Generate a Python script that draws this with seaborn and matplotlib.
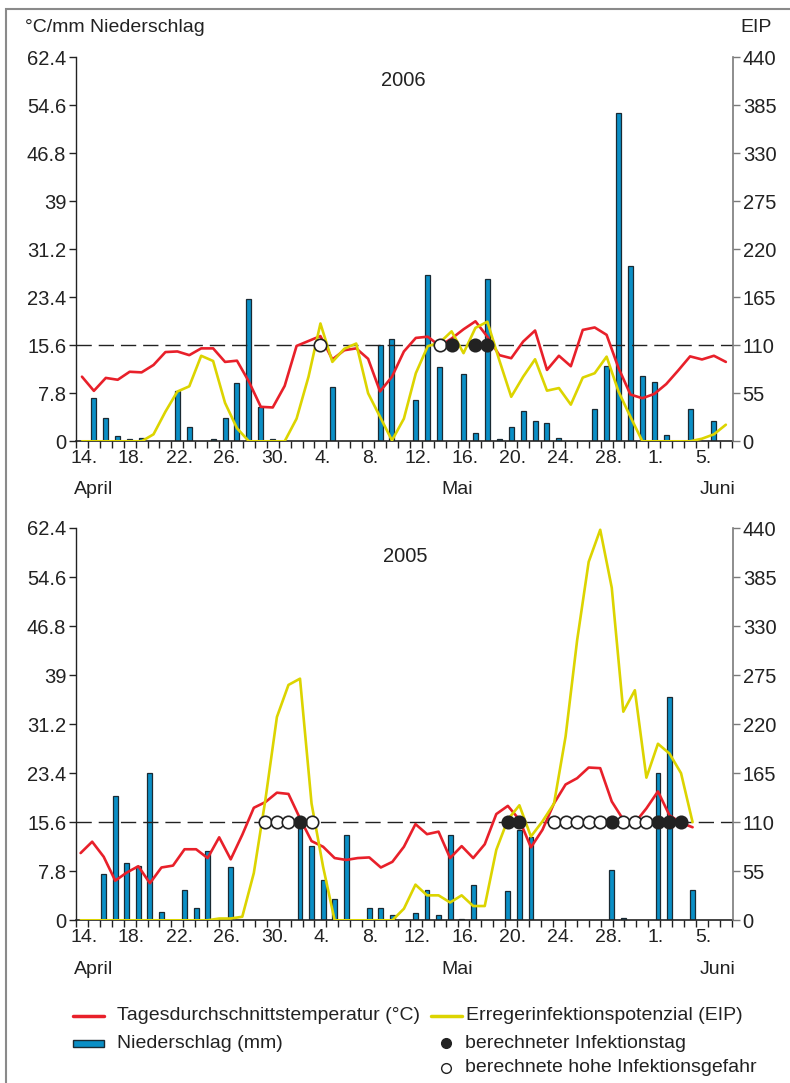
import numpy as np
import pandas as pd
import matplotlib
matplotlib.use("Agg")
import matplotlib.pyplot as plt
import seaborn as sns
from matplotlib.lines import Line2D
from matplotlib.patches import Rectangle

sns.set_theme(style="ticks")
plt.rcParams['font.family'] = ['Liberation Sans', 'DejaVu Sans']

# ---------------- data (day 0 = 14 April) ----------------
temp_2006 = [10.5, 8.2, 10.3, 10.0, 11.3, 11.2, 12.4, 14.5, 14.6, 14.0,
             15.1, 15.1, 12.9, 13.1, 9.7, 5.6, 5.5, 9.0, 15.5, 16.3,
             17.1, 13.3, 14.8, 15.1, 13.4, 8.1, 10.5, 14.6, 16.8, 17.0,
             15.5, 16.7, 18.2, 19.5, 17.0, 14.0, 13.5, 16.2, 18.0, 11.6,
             13.9, 12.2, 18.1, 18.5, 17.3, 11.9, 7.6, 7.0, 7.7, 9.3,
             11.5, 13.8, 13.3, 13.9, 12.9]
eip_2006 = [0, 0, 0, 0, 0, 0, 8, 34, 57, 63,
            98, 92, 44, 15, 0, 0, 0, 0, 26, 74,
            135, 91, 106, 112, 55, 28, 1, 26, 78, 109,
            113, 126, 101, 130, 137, 93, 51, 74, 94, 58,
            61, 42, 73, 78, 97, 57, 28, 0, 0, 0,
            0, 0, 3, 8, 19]
rain_days_2006 = [1, 2, 3, 4, 5, 8, 9, 11, 12, 13, 14, 15, 16, 21, 25, 26, 28, 29, 30,
                  32, 33, 34, 35, 36, 37, 38, 39, 40, 43, 44, 45, 46, 47, 48, 49, 51, 53]
rain_2006 = [7.0, 3.8, 0.8, 0.3, 0.6, 8.1, 2.3, 0.3, 3.8, 9.5, 23.2, 5.6, 0.3, 8.9, 15.7, 16.7, 6.7, 27.1, 12.0,
             10.9, 1.3, 26.4, 0.4, 2.3, 4.9, 3.3, 3.0, 0.6, 5.2, 12.3, 53.3, 28.5, 10.6, 9.7, 1.0, 5.2, 3.3]
infection_2006 = [31, 33, 34]
risk_2006 = [20, 30]

temp_2005 = [10.7, 12.5, 10.1, 6.3, 7.6, 8.6, 5.9, 8.4, 8.7, 11.3,
             11.3, 9.9, 13.2, 9.7, 13.6, 17.9, 18.8, 20.3, 20.1, 16.2,
             12.6, 11.7, 9.9, 9.6, 9.9, 10.0, 8.4, 9.3, 11.7, 15.3,
             13.7, 14.1, 9.9, 11.8, 9.9, 12.1, 16.9, 18.2, 16.0, 11.6,
             14.4, 18.6, 21.6, 22.6, 24.3, 24.2, 18.9, 16.0, 15.5, 17.8,
             20.5, 16.7, 15.5, 14.8]
eip_2005 = [0, 0, 0, 0, 0, 0, 0, 0, 0, 0,
            0, 0, 2, 2, 4, 53, 135, 228, 264, 271,
            131, 60, 0, 0, 0, 0, 0, 0, 13, 40,
            28, 28, 20, 28, 16, 16, 79, 113, 129, 94,
            111, 131, 206, 314, 402, 438, 373, 234, 258, 160,
            198, 187, 165, 110]
rain_days_2005 = [2, 3, 4, 5, 6, 7, 9, 10, 11, 13, 19, 20, 21, 22, 23, 25, 26, 27,
                  29, 30, 31, 32, 33, 34, 37, 38, 39, 46, 47, 50, 51, 53]
rain_2005 = [7.3, 19.8, 9.1, 8.7, 23.4, 1.3, 4.8, 2.0, 11.0, 8.5, 15.8, 11.8, 6.4, 3.4, 13.5, 1.9, 1.9, 0.8,
             1.1, 4.8, 0.8, 13.5, 0.2, 5.6, 4.7, 14.3, 13.2, 8.0, 0.4, 23.5, 35.5, 4.8]
infection_2005 = [19, 37, 38, 46, 50, 51, 52]
risk_2005 = [16, 17, 18, 20, 41, 42, 43, 44, 45, 47, 48, 49]

left_ticks = [0, 7.8, 15.6, 23.4, 31.2, 39, 46.8, 54.6, 62.4]
left_labels = ["0", "7.8", "15.6", "23.4", "31.2", "39", "46.8", "54.6", "62.4"]
right_ticks = [0, 55, 110, 165, 220, 275, 330, 385, 440]
right_labels = ["0", "55", "110", "165", "220", "275", "330", "385", "440"]
x_label_days = [0, 4, 8, 12, 16, 20, 24, 28, 32, 36, 40, 44, 48, 52]
x_labels = ["14.", "18.", "22.", "26.", "30.", "4.", "8.", "12.", "16.", "20.", "24.", "28.", "1.", "5."]
threshold_temp = 15.6
threshold_eip = 110

# ---------------- styling ----------------
RED = "#e8202a"
YELLOW = "#dcd400"
BLUE = "#0a8fc6"
DARK = "#222222"
GREY = "#7a7a7a"

W, H = 790, 1083
fig = plt.figure(figsize=(W / 100, H / 100), dpi=100)


def fx(px):
    return px / W


def fy(py):
    return 1 - py / H


TOP_LIM = (-0.5, 54.6)
BOT_LIM = (-0.4, 56.5)


def map_days(d, dst):
    d = np.asarray(d, dtype=float)
    return dst[0] + (d - TOP_LIM[0]) * (dst[1] - dst[0]) / (TOP_LIM[1] - TOP_LIM[0])


def panel(rect, xlim, temp, eip, rain_days, rain, inf, risk, year, year_xy):
    ax = fig.add_axes(rect)
    days = np.arange(len(temp))
    df_rain = pd.DataFrame({"day": rain_days, "rain": rain})
    sns.barplot(data=df_rain, x="day", y="rain", native_scale=True, width=0.42,
                color=BLUE, saturation=1, edgecolor="#1a2a33", linewidth=0.9,
                errorbar=None, ax=ax, zorder=1)
    ax.axhline(threshold_temp, color=DARK, lw=1.0, linestyle=(0, (11, 5)), zorder=1.5)
    sns.lineplot(x=days, y=temp, color=RED, lw=1.9, ax=ax, estimator=None, sort=False, zorder=3)
    ax.set_xlim(*xlim)
    ax.set_ylim(0, 62.4)
    ax.set_xlabel("")
    ax.set_ylabel("")

    ax2 = ax.twinx()
    sns.lineplot(x=days, y=eip, color=YELLOW, lw=1.9, ax=ax2, estimator=None, sort=False, zorder=3)
    sns.scatterplot(x=risk, y=[threshold_eip] * len(risk), ax=ax2, s=80, marker="o",
                    facecolor="white", edgecolor=DARK, linewidth=1.2, zorder=5)
    sns.scatterplot(x=inf, y=[threshold_eip] * len(inf), ax=ax2, s=80, marker="o",
                    facecolor=DARK, edgecolor=DARK, linewidth=1.2, zorder=6)
    ax2.set_ylim(0, 440)
    ax2.set_xlim(*xlim)
    ax2.set_ylabel("")

    # spines
    for a in (ax, ax2):
        a.spines["top"].set_visible(False)
    ax.spines["right"].set_visible(False)
    ax2.spines["left"].set_visible(False)
    ax2.spines["bottom"].set_visible(False)
    ax.spines["left"].set_color(DARK)
    ax.spines["left"].set_linewidth(1.0)
    ax.spines["bottom"].set_color(DARK)
    ax.spines["bottom"].set_linewidth(1.2)
    ax2.spines["right"].set_color(GREY)
    ax2.spines["right"].set_linewidth(1.2)

    # ticks
    ax.set_yticks(left_ticks)
    ax.set_yticklabels(left_labels)
    ax.tick_params(axis="y", left=True, direction="out", length=5, width=1.0,
                   color=DARK, pad=2, labelsize=14.5, labelcolor=DARK)
    ax2.set_yticks(right_ticks)
    ax2.set_yticklabels(right_labels)
    ax2.tick_params(axis="y", right=True, direction="out", length=5, width=1.0,
                    color=GREY, pad=2, labelsize=14.5, labelcolor=DARK)

    ax.set_xticks(map_days(x_label_days, xlim) + 0.15)
    ax.set_xticklabels(x_labels)
    ax.set_xticks(map_days(np.arange(-1, 55) + 0.5, xlim), minor=True)
    ax.tick_params(axis="x", which="major", bottom=True, length=0, pad=6,
                   labelsize=14, labelcolor=DARK)
    ax.tick_params(axis="x", which="minor", bottom=True, direction="out", length=5,
                   width=1.0, color=DARK)
    ax.grid(False)
    ax2.grid(False)

    ax.text(year_xy[0], year_xy[1], year, transform=fig.transFigure, ha="center",
            va="center", fontsize=14.5, color=DARK)
    return ax


panel([fx(76), fy(441.3), fx(733) - fx(76), fy(57.3) - fy(441.3)], TOP_LIM,
      temp_2006, eip_2006, rain_days_2006, rain_2006, infection_2006, risk_2006,
      "2006", (fx(403), fy(80)))
panel([fx(76), fy(920.3), fx(733) - fx(76), fy(528) - fy(920.3)], BOT_LIM,
      temp_2005, eip_2005, rain_days_2005, rain_2005, infection_2005, risk_2005,
      "2005", (fx(405), fy(556)))

# axis titles
fig.text(fx(25), fy(28), "°C/mm Niederschlag", ha="left", va="center", fontsize=14, color=DARK)
fig.text(fx(740), fy(28), "EIP", ha="left", va="center", fontsize=14, color=DARK)

# month labels
for yy in (490, 969):
    fig.text(fx(74), fy(yy), "April", ha="left", va="center", fontsize=14, color=DARK)
    fig.text(fx(457), fy(yy), "Mai", ha="center", va="center", fontsize=14, color=DARK)
    fig.text(fx(736), fy(yy), "Juni", ha="right", va="center", fontsize=14, color=DARK)

# legend (manual)
fig.add_artist(Line2D([fx(73), fx(104)], [fy(1016), fy(1016)], color=RED, lw=2.5))
fig.text(fx(117), fy(1016), "Tagesdurchschnittstemperatur (°C)", ha="left", va="center",
         fontsize=14, color=DARK)
fig.add_artist(Line2D([fx(431), fx(462)], [fy(1016), fy(1016)], color=YELLOW, lw=2.5))
fig.text(fx(466), fy(1016), "Erregerinfektionspotenzial (EIP)", ha="left", va="center",
         fontsize=14, color=DARK)
fig.add_artist(Rectangle((fx(73), fy(1047)), fx(104) - fx(73), fy(1040) - fy(1047),
                         transform=fig.transFigure, facecolor=BLUE, edgecolor="#1a2a33", lw=1.0))
fig.text(fx(117), fy(1043), "Niederschlag (mm)", ha="left", va="center", fontsize=14, color=DARK)
fig.add_artist(Line2D([fx(446)], [fy(1043)], marker="o", markersize=7, color=DARK,
                      markerfacecolor=DARK, markeredgecolor=DARK, linestyle="none"))
fig.text(fx(465), fy(1043), "berechneter Infektionstag", ha="left", va="center",
         fontsize=14, color=DARK)
fig.add_artist(Line2D([fx(446)], [fy(1068)], marker="o", markersize=7, linestyle="none",
                      markerfacecolor="white", markeredgecolor=DARK, markeredgewidth=1.0))
fig.text(fx(465), fy(1068), "berechnete hohe Infektionsgefahr", ha="left", va="center",
         fontsize=14, color=DARK)

# outer frame
fig.add_artist(Rectangle((fx(6), fy(1100)), 1.2, fy(9) - fy(1100), transform=fig.transFigure,
                         fill=False, edgecolor="#8a8a8a", lw=1.5))

fig.savefig("out.png", dpi=100)
